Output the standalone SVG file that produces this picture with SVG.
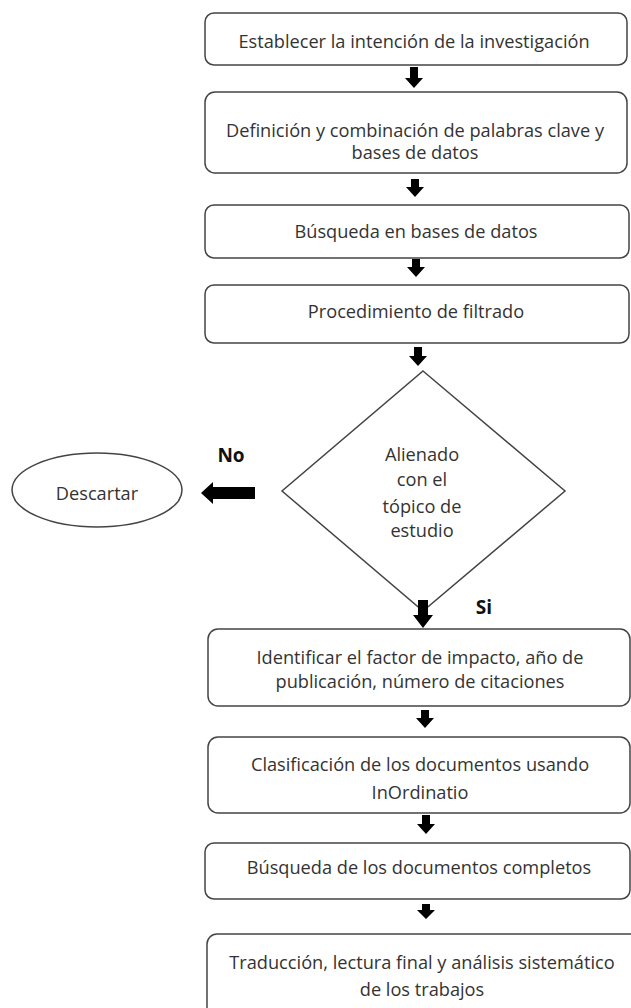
<svg xmlns="http://www.w3.org/2000/svg" width="631" height="1008" viewBox="0 0 631 1008">
<style>
.box{fill:#fff;stroke:#444;stroke-width:1.5}
.t{font-family:"Open Sans","Noto Sans","Liberation Sans",sans-serif;font-size:18.2px;fill:#333;text-anchor:middle}
.b{font-family:"Open Sans","Noto Sans","Liberation Sans",sans-serif;font-size:19px;font-weight:bold;fill:#111;text-anchor:middle}
.ar{fill:#000}
</style>
<rect width="631" height="1008" fill="#fff"/>
<g id="n1"><rect class="box" x="205" y="13" width="422" height="52" rx="9"/><text class="t" x="414" y="48">Establecer la intención de la investigación</text></g>
<g id="n2"><rect class="box" x="205" y="92" width="422" height="81" rx="10"/><text class="t" x="415" y="137">Definición y combinación de palabras clave y</text><text class="t" x="415" y="159">bases de datos</text></g>
<g id="n3"><rect class="box" x="205" y="205" width="424" height="53" rx="9"/><text class="t" x="416" y="238">Búsqueda en bases de datos</text></g>
<g id="n4"><rect class="box" x="205" y="285" width="424" height="58" rx="9"/><text class="t" x="416" y="318">Procedimiento de filtrado</text></g>
<g id="n5"><polygon class="box" points="423,371 565,491 423,611 282,491"/><text class="t" x="422" y="461">Alienado</text><text class="t" x="422" y="486">con el</text><text class="t" x="422" y="513">tópico de</text><text class="t" x="422" y="537">estudio</text></g>
<g id="n6"><ellipse class="box" cx="97" cy="490" rx="85" ry="37"/><text class="t" x="97" y="500">Descartar</text></g>
<g id="n7"><rect class="box" x="208" y="629" width="422" height="77" rx="10"/><text class="t" x="420" y="664">Identificar el factor de impacto, año de</text><text class="t" x="420" y="688">publicación, número de citaciones</text></g>
<g id="n8"><rect class="box" x="208" y="737" width="422" height="76" rx="10"/><text class="t" x="420" y="771">Clasificación de los documentos usando</text><text class="t" x="420" y="799">InOrdinatio</text></g>
<g id="n9"><rect class="box" x="205" y="843" width="425" height="56" rx="9"/><text class="t" x="419" y="874">Búsqueda de los documentos completos</text></g>
<g id="n10"><rect class="box" x="207" y="934" width="440" height="90" rx="10"/><text class="t" x="422" y="969">Traducción, lectura final y análisis sistemático</text><text class="t" x="422" y="996">de los trabajos</text></g>
<g id="connectors">
<path class="ar" d="M410 67 H418 V78 H423 L414 88 L405 78 H410 Z"/>
<path class="ar" d="M411 179 H419 V187 H424 L415 197 L406 187 H411 Z"/>
<path class="ar" d="M412 259 H420 V267 H425 L416 277 L407 267 H412 Z"/>
<path class="ar" d="M414 347 H422 V356 H427 L418 366 L409 356 H414 Z"/>
<path class="ar" d="M418 600 H428 V615 H433 L423 628 L413 615 H418 Z"/>
<path class="ar" d="M421 710 H429 V718 H434 L425 728 L416 718 H421 Z"/>
<path class="ar" d="M422 815 H430 V824 H435 L426 834 L417 824 H422 Z"/>
<path class="ar" d="M422 904 H430 V910 H435 L426 919 L417 910 H422 Z"/>
<path class="ar" d="M255 487 V499 H213 V504 L201 493 L213 482 V487 Z"/>
<text class="b" x="231" y="462">No</text>
<text class="b" x="484" y="614">Si</text>
</g>
</svg>
